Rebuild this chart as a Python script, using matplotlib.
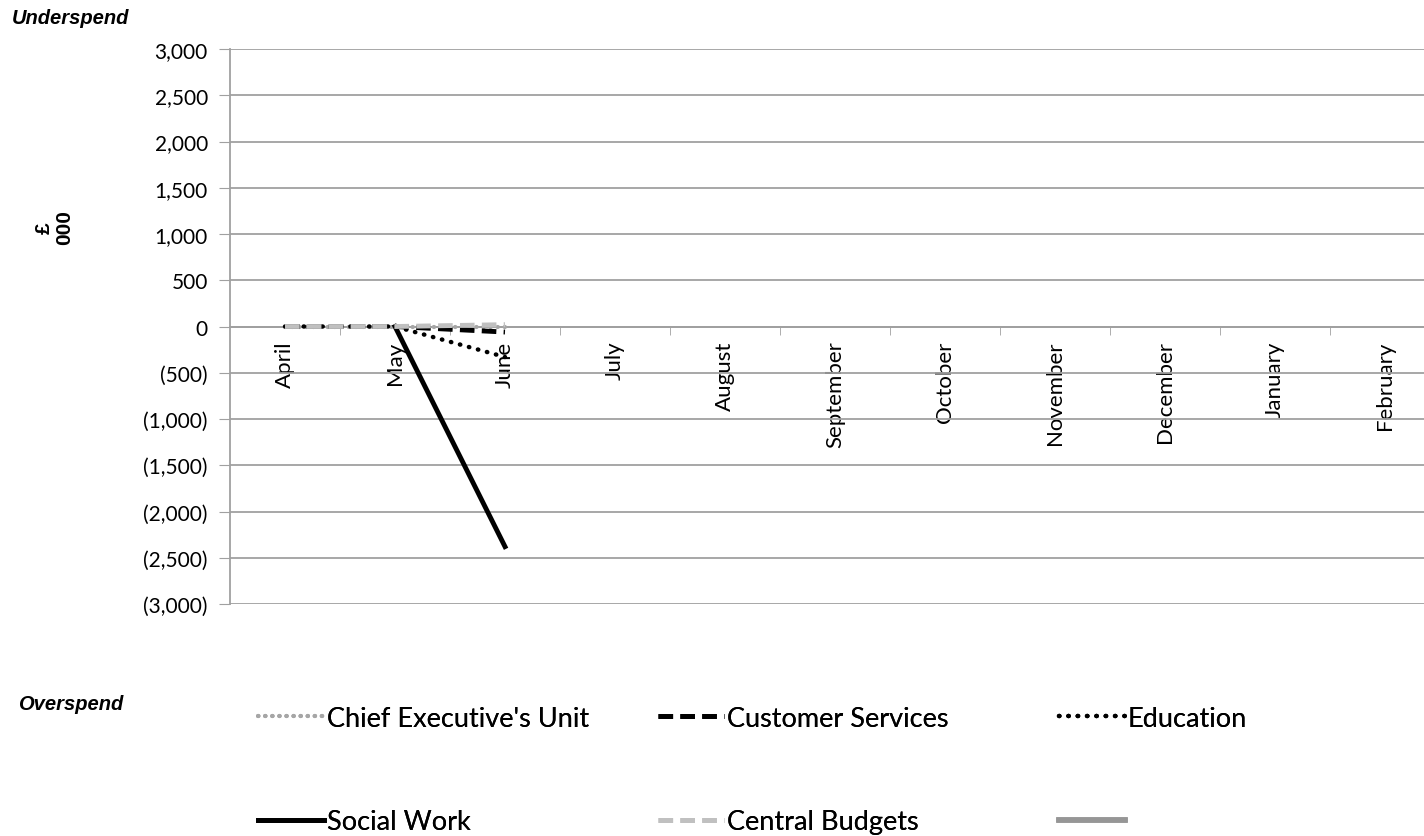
import numpy as np
import matplotlib
matplotlib.use('Agg')
import matplotlib.pyplot as plt
from matplotlib.lines import Line2D
from matplotlib.ticker import FuncFormatter, FixedLocator

months = ['April', 'May', 'June', 'July', 'August', 'September', 'October',
          'November', 'December', 'January', 'February', 'March']
# March sits past the right edge of the picture, so its label is not shown
month_labels = months[:-1] + ['']

# values in £000, only the first three months reported
chief_exec = [0, 0, 0]
customer_services = [0, 0, -60]
education = [0, 0, -330]
social_work = [None, 0, -2380]
central_budgets = [0, 0, 20]

y_ticks = [3000, 2500, 2000, 1500, 1000, 500, 0, -500, -1000, -1500, -2000, -2500, -3000]

plt.rcParams['font.family'] = ['Lato', 'DejaVu Sans']

fig = plt.figure(figsize=(14.24, 8.37), dpi=100)
# plot area runs past the right edge of the picture (March is cut off)
ax = fig.add_axes([230/1424, 1-605/837, 1320/1424, 555/837])

def to_arr(v):
  return np.array([np.nan if a is None else a for a in v], dtype=float)

x = np.arange(3)
grid_c = '#A0A0A0'
ax.plot(x, to_arr(chief_exec), color='#A6A6A6', ls=(0, (0.1, 1.6)), lw=3, dash_capstyle='round',
        label="Chief Executive's Unit", zorder=3)
ax.plot(x, to_arr(customer_services), color='black', ls=(0, (3, 1.5)), lw=3.5, label='Customer Services', zorder=3)
ax.plot(x, to_arr(education), color='black', ls=(0, (0.1, 2)), lw=3.2, dash_capstyle='round', label='Education', zorder=3)
ax.plot(x, to_arr(social_work), color='black', ls='-', lw=3.5, label='Social Work', zorder=3)
ax.plot(x, to_arr(central_budgets), color='#C0C0C0', ls=(0, (3, 1.5)), lw=3.5, label='Central Budgets', zorder=4)

ax.set_xlim(-0.5, len(months) - 0.5)
ax.set_ylim(-3000, 3000)
ax.set_yticks(y_ticks)
ax.yaxis.set_major_formatter(FuncFormatter(lambda v, p: '({:,.0f})'.format(-v) if v < 0 else '{:,.0f}'.format(v)))
ax.grid(axis='y', color=grid_c, lw=1.3)
ax.set_axisbelow(True)

for s in ['top', 'right']:
  ax.spines[s].set_visible(False)
ax.spines['left'].set_color(grid_c)
ax.spines['left'].set_linewidth(1.3)
ax.spines['bottom'].set_position(('data', 0))
ax.spines['bottom'].set_color(grid_c)
ax.spines['bottom'].set_linewidth(1.3)

ax.set_xticks(range(len(months)))
ax.set_xticklabels(month_labels, rotation=90, fontsize=16)
ax.tick_params(axis='x', which='major', length=0, pad=10)
ax.xaxis.set_minor_locator(FixedLocator(np.arange(0.5, len(months), 1)))
ax.tick_params(axis='x', which='minor', length=6, color=grid_c, direction='out')
ax.tick_params(axis='y', length=8, color=grid_c, labelsize=15, pad=8)

fig.text(12/1424, 1-18/837, 'Underspend', fontsize=14.5, fontweight='bold', style='italic',
         family=['Liberation Sans', 'DejaVu Sans'], va='center', ha='left')
fig.text(18/1424, 1-705/837, 'Overspend', fontsize=14.5, fontweight='bold', style='italic',
         family=['Liberation Sans', 'DejaVu Sans'], va='center', ha='left')
fig.text(54/1424, 1-228/837, '£\n000', rotation=90, fontsize=15, fontweight='bold',
         family=['Liberation Sans', 'DejaVu Sans'], va='center', ha='center', multialignment='center',
         linespacing=1.1)

h, l = ax.get_legend_handles_labels()
blank = Line2D([], [], color='#969696', lw=4)
columns = [([h[0], h[3]], [l[0], l[3]], 247),
           ([h[1], h[4]], [l[1], l[4]], 647),
           ([h[2], blank], [l[2], ''], 1048)]
for hh, ll, xpos in columns:
  leg = fig.legend(hh, ll, loc='upper left', bbox_to_anchor=(xpos/1424, 1-696/837),
                   frameon=False, fontsize=19.5, handlelength=2.45, handletextpad=0.1,
                   labelspacing=2.9, borderpad=0.4, borderaxespad=0)
  fig.add_artist(leg)

fig.savefig('out.png', dpi=100)
